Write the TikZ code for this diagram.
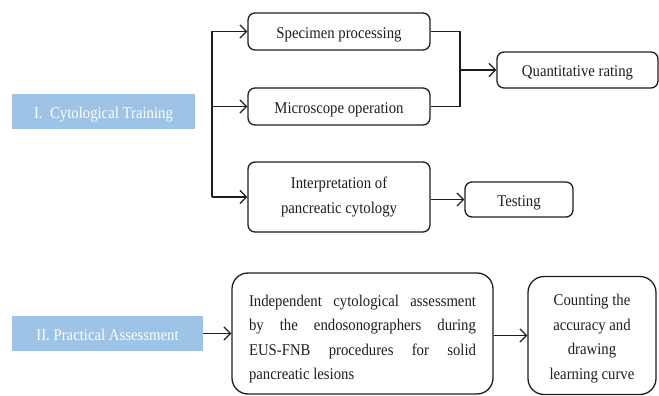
\documentclass[tikz,border=0pt]{standalone}
\usepackage{fontspec}
\setmainfont{Liberation Serif}[FakeStretch=0.9]
\usetikzlibrary{arrows.meta}
\definecolor{hdrblue}{HTML}{9DC3E6}
\definecolor{ink}{HTML}{1E1E1E}
\begin{document}
\begin{tikzpicture}[x=1pt,y=-1pt,
  every node/.style={font=\fontsize{16.4}{24.4}\selectfont, text=ink, inner sep=0pt},
  oneline/.style={text height=14pt, text depth=0pt},
  hdr/.style={fill=hdrblue, text=white, minimum height=35pt, oneline},
  sbox/.style={draw=ink, line width=1.3pt, rounded corners=7pt},
  bbox/.style={draw=ink, line width=1.3pt, rounded corners=16pt},
  conn/.style={draw=ink, line width=1.3pt, -{Straight Barb[length=6.5pt,width=13pt,line width=1.3pt]}},
  plain/.style={draw=ink, line width=1.3pt}]
\useasboundingbox (0,0) rectangle (659,396);
% header boxes
\node[hdr, minimum width=183pt] (t1) at (103.5,111.5) {I.\ \ Cytological Training};
\node[hdr, minimum width=191pt] (t2) at (107.5,333.5) {II. Practical Assessment};
% stage I boxes
\node[sbox, oneline, minimum width=182pt, minimum height=37pt] (spec) at (339,31.5) {Specimen processing};
\node[sbox, oneline, minimum width=182pt, minimum height=37pt] (micro) at (339,106.5) {Microscope operation};
\node[sbox, minimum width=182pt, minimum height=70pt, align=center] (interp) at (339,197) {Interpretation of\\pancreatic cytology};
\node[sbox, oneline, minimum width=161pt, minimum height=36pt] (quant) at (577.5,70) {Quantitative rating};
\node[sbox, oneline, minimum width=108pt, minimum height=35pt] (test) at (519,199.5) {Testing};
% stage II boxes
\node[bbox, minimum width=261pt, minimum height=121pt] (indep) at (362.5,333.5) {};
\node[align=left] (indeptxt) at ([yshift=-5.5pt]indep.center) {%
\makebox[227pt][s]{Independent cytological assessment}\\
\makebox[227pt][s]{by the endosonographers during}\\
\makebox[227pt][s]{EUS-FNB procedures for solid}\\
\makebox[227pt][l]{pancreatic lesions}};
\node[bbox, minimum width=128pt, minimum height=118pt] (count) at (592,335.5) {};
\node[align=center] (counttxt) at ([yshift=-3pt]count.center) {Counting the\\accuracy and\\drawing\\learning curve};
% bracket on the left
\coordinate (bx) at (212,0);
\draw[plain] (bx |- spec.west) -- (bx |- interp.west);
\draw[conn] (bx |- spec.west) -- (spec.west);
\draw[conn] (bx |- micro.west) -- (micro.west);
\draw[conn] (bx |- interp.west) -- (interp.west);
% bracket on the right
\coordinate (rx) at (460,0);
\draw[plain] (spec.east) -- (rx |- spec.east) -- (rx |- micro.east) -- (micro.east);
\draw[conn] (rx |- quant.west) -- (quant.west);
\draw[conn] (interp.east |- test.west) -- (test.west);
% stage II arrows
\draw[conn] (t2.east) -- (indep.west |- t2.east);
\draw[conn] (indep.east |- count.west) -- (count.west);
\end{tikzpicture}
\end{document}
